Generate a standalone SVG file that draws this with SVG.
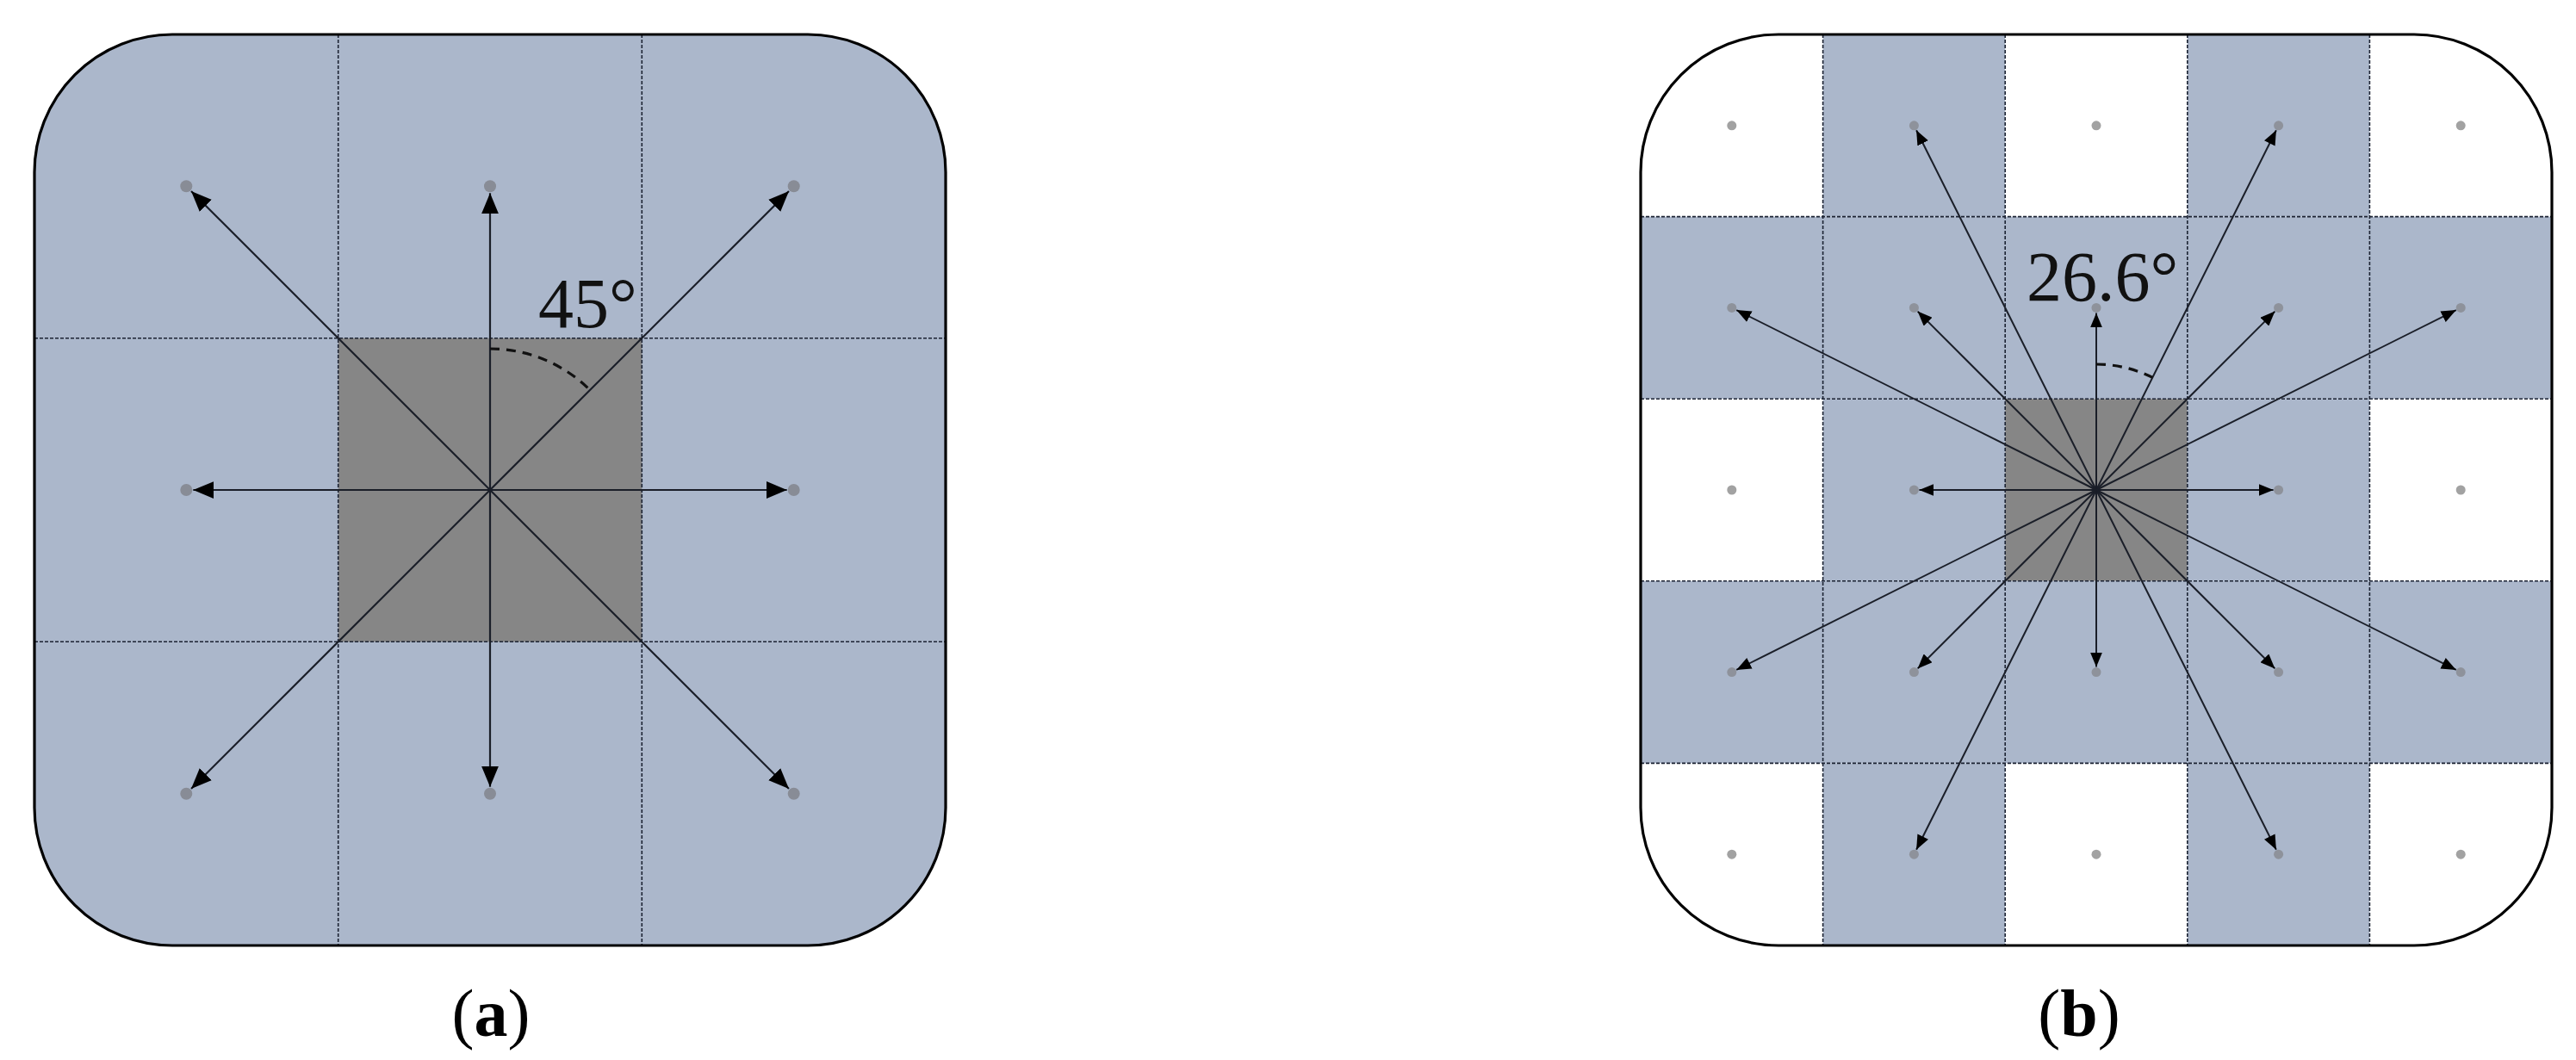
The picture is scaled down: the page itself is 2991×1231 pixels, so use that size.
<svg xmlns="http://www.w3.org/2000/svg" width="2991" height="1231" viewBox="0 0 2991 1231">
<style>
.blue{fill:#abb7cb}
.dark{fill:#868686}
.white{fill:#ffffff}
.grid{stroke:#1c2333;stroke-width:1.6;stroke-dasharray:4 2;fill:none}
.outline{fill:none;stroke:#000;stroke-width:3.2}
.dotA{fill:#888c96}
.dotB{fill:#8e929b}
.dotW{fill:#a2a2a2}
.arrA{stroke:#1a1e28;stroke-width:2.2;fill:none;marker-end:url(#headA)}
.arrB{stroke:#1a1e28;stroke-width:2;fill:none;marker-end:url(#headB)}
.arc{fill:none;stroke:#111;stroke-width:3.2;stroke-dasharray:11 8}
.ang{font-family:"Liberation Serif",serif;font-size:82px;fill:#111}
.cap{font-family:"Liberation Serif",serif;font-size:78px;fill:#000}
</style>
<defs>
<marker id="headA" markerUnits="userSpaceOnUse" viewBox="0 0 24 20" refX="24" refY="10" markerWidth="24" markerHeight="20" orient="auto"><path d="M0,0 L24,10 L0,20 z" fill="#000"/></marker>
<marker id="headB" markerUnits="userSpaceOnUse" viewBox="0 0 17 14" refX="17" refY="7" markerWidth="17" markerHeight="14" orient="auto"><path d="M0,0 L17,7 L0,14 z" fill="#000"/></marker>
<clipPath id="clipA"><rect x="40" y="40" width="1058" height="1058" rx="160" ry="160"/></clipPath>
<clipPath id="clipB"><rect x="1905" y="40" width="1058" height="1058" rx="160" ry="160"/></clipPath>
</defs>

<g id="panel-a">
<g clip-path="url(#clipA)">
<rect class="blue" x="40" y="40" width="1058" height="1058"/>
<rect class="dark" x="392.7" y="392.7" width="352.7" height="352.7"/>
<path class="grid" d="M392.7,40V1098M745.3,40V1098M40,392.7H1098M40,745.3H1098"/>
</g>
<rect class="outline" x="40" y="40" width="1058" height="1058" rx="160" ry="160"/>
</g>

<g id="dots-a">
<circle class="dotA" cx="216.3" cy="216.3" r="7"/>
<circle class="dotA" cx="569" cy="216.3" r="7"/>
<circle class="dotA" cx="921.7" cy="216.3" r="7"/>
<circle class="dotA" cx="216.3" cy="569" r="7"/>
<circle class="dotA" cx="921.7" cy="569" r="7"/>
<circle class="dotA" cx="216.3" cy="921.7" r="7"/>
<circle class="dotA" cx="569" cy="921.7" r="7"/>
<circle class="dotA" cx="921.7" cy="921.7" r="7"/>
</g>

<g id="panel-b">
<g clip-path="url(#clipB)">
<rect class="white" x="1905" y="40" width="1058" height="1058"/>
<rect class="blue" x="2116.6" y="40" width="211.6" height="211.6"/>
<rect class="blue" x="2539.8" y="40" width="211.6" height="211.6"/>
<rect class="blue" x="1905" y="251.6" width="1058" height="211.6"/>
<rect class="blue" x="2116.6" y="463.2" width="211.6" height="211.6"/>
<rect class="dark" x="2328.2" y="463.2" width="211.6" height="211.6"/>
<rect class="blue" x="2539.8" y="463.2" width="211.6" height="211.6"/>
<rect class="blue" x="1905" y="674.8" width="1058" height="211.6"/>
<rect class="blue" x="2116.6" y="886.4" width="211.6" height="211.6"/>
<rect class="blue" x="2539.8" y="886.4" width="211.6" height="211.6"/>
<path class="grid" d="M2116.6,40V1098M2328.2,40V1098M2539.8,40V1098M2751.4,40V1098M1905,251.6H2963M1905,463.2H2963M1905,674.8H2963M1905,886.4H2963"/>
</g>
<rect class="outline" x="1905" y="40" width="1058" height="1058" rx="160" ry="160"/>
</g>

<g id="dots-b">
<circle class="dotW" cx="2010.8" cy="145.8" r="5.5"/>
<circle class="dotB" cx="2222.4" cy="145.8" r="5.5"/>
<circle class="dotW" cx="2434" cy="145.8" r="5.5"/>
<circle class="dotB" cx="2645.6" cy="145.8" r="5.5"/>
<circle class="dotW" cx="2857.2" cy="145.8" r="5.5"/>
<circle class="dotB" cx="2010.8" cy="357.4" r="5.5"/>
<circle class="dotB" cx="2222.4" cy="357.4" r="5.5"/>
<circle class="dotB" cx="2434" cy="357.4" r="5.5"/>
<circle class="dotB" cx="2645.6" cy="357.4" r="5.5"/>
<circle class="dotB" cx="2857.2" cy="357.4" r="5.5"/>
<circle class="dotW" cx="2010.8" cy="569" r="5.5"/>
<circle class="dotB" cx="2222.4" cy="569" r="5.5"/>
<circle class="dotB" cx="2645.6" cy="569" r="5.5"/>
<circle class="dotW" cx="2857.2" cy="569" r="5.5"/>
<circle class="dotB" cx="2010.8" cy="780.6" r="5.5"/>
<circle class="dotB" cx="2222.4" cy="780.6" r="5.5"/>
<circle class="dotB" cx="2434" cy="780.6" r="5.5"/>
<circle class="dotB" cx="2645.6" cy="780.6" r="5.5"/>
<circle class="dotB" cx="2857.2" cy="780.6" r="5.5"/>
<circle class="dotW" cx="2010.8" cy="992.2" r="5.5"/>
<circle class="dotB" cx="2222.4" cy="992.2" r="5.5"/>
<circle class="dotW" cx="2434" cy="992.2" r="5.5"/>
<circle class="dotB" cx="2645.6" cy="992.2" r="5.5"/>
<circle class="dotW" cx="2857.2" cy="992.2" r="5.5"/>
</g>

<g id="connectors">
<line class="arrA" x1="569" y1="569" x2="222" y2="222"/>
<line class="arrA" x1="569" y1="569" x2="916" y2="222"/>
<line class="arrA" x1="569" y1="569" x2="222" y2="916"/>
<line class="arrA" x1="569" y1="569" x2="916" y2="916"/>
<line class="arrA" x1="569" y1="569" x2="569" y2="224.3"/>
<line class="arrA" x1="569" y1="569" x2="569" y2="913.7"/>
<line class="arrA" x1="569" y1="569" x2="224.3" y2="569"/>
<line class="arrA" x1="569" y1="569" x2="913.7" y2="569"/>

<line class="arrB" x1="2434" y1="569" x2="2434" y2="363.4"/>
<line class="arrB" x1="2434" y1="569" x2="2434" y2="774.6"/>
<line class="arrB" x1="2434" y1="569" x2="2228.4" y2="569"/>
<line class="arrB" x1="2434" y1="569" x2="2639.6" y2="569"/>
<line class="arrB" x1="2434" y1="569" x2="2641.4" y2="361.6"/>
<line class="arrB" x1="2434" y1="569" x2="2226.6" y2="361.6"/>
<line class="arrB" x1="2434" y1="569" x2="2641.4" y2="776.4"/>
<line class="arrB" x1="2434" y1="569" x2="2226.6" y2="776.4"/>
<line class="arrB" x1="2434" y1="569" x2="2642.9" y2="151.2"/>
<line class="arrB" x1="2434" y1="569" x2="2225.1" y2="151.2"/>
<line class="arrB" x1="2434" y1="569" x2="2642.9" y2="986.8"/>
<line class="arrB" x1="2434" y1="569" x2="2225.1" y2="986.8"/>
<line class="arrB" x1="2434" y1="569" x2="2851.8" y2="360.1"/>
<line class="arrB" x1="2434" y1="569" x2="2016.2" y2="360.1"/>
<line class="arrB" x1="2434" y1="569" x2="2851.8" y2="777.9"/>
<line class="arrB" x1="2434" y1="569" x2="2016.2" y2="777.9"/>
</g>

<g id="angles">
<path class="arc" d="M569,405 A164,164 0 0 1 685,453"/>
<text class="ang" x="625" y="380">45°</text>
<path class="arc" d="M2434,423 A146,146 0 0 1 2499.3,438.4"/>
<text class="ang" x="2353" y="349">26.6°</text>
</g>

<g id="captions">
<text class="cap" x="570" y="1203" text-anchor="middle">(<tspan font-weight="bold">a</tspan>)</text>
<text class="cap" x="2414" y="1203" text-anchor="middle">(<tspan font-weight="bold">b</tspan>)</text>
</g>
</svg>
